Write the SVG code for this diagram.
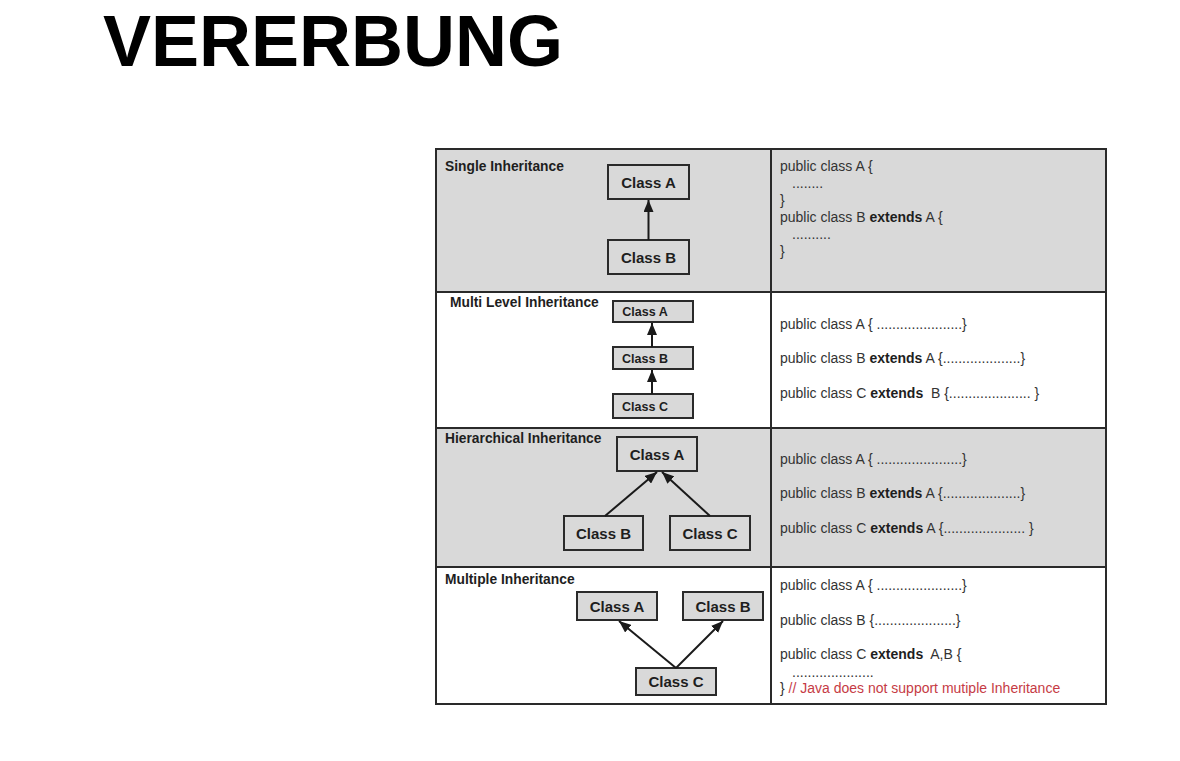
<svg xmlns="http://www.w3.org/2000/svg" width="1180" height="761" viewBox="0 0 1180 761">
  <style>
    .title { font-family: "Liberation Sans", Arial, sans-serif; font-weight: bold; font-size: 72px; fill: #000; }
    .label { font-family: "Liberation Sans", Arial, sans-serif; font-weight: bold; font-size: 13.8px; fill: #1e1e1e; }
    .box { fill: #d9d9d9; stroke: #2a2a2a; stroke-width: 2; }
    .cls { font-family: "Liberation Sans", Arial, sans-serif; font-weight: bold; font-size: 15px; fill: #1e1e1e; text-anchor: middle; }
    .cls-sm { font-family: "Liberation Sans", Arial, sans-serif; font-weight: bold; font-size: 12.5px; fill: #1e1e1e; text-anchor: middle; }
    .code { font-family: "Liberation Sans", Arial, sans-serif; font-size: 14px; fill: #333; }
    .kw { font-weight: bold; fill: #1e1e1e; }
    .note { fill: #c63b45; }
    .grid { fill: none; stroke: #2a2a2a; stroke-width: 2; }
    .edge { stroke: #1a1a1a; stroke-width: 2; fill: none; marker-end: url(#head); }
  </style>
  <defs>
    <marker id="head" markerUnits="userSpaceOnUse" markerWidth="12" markerHeight="10" refX="12" refY="5" orient="auto">
      <path d="M0,0 L12,5 L0,10 z" fill="#1a1a1a"/>
    </marker>
  </defs>

  <rect width="1180" height="761" fill="#fff"/>

  <text class="title" x="103" y="66">VERERBUNG</text>

  <!-- table rows: grey / white bands -->
  <rect x="436" y="149" width="670" height="143" fill="#d9d9d9"/>
  <rect x="436" y="292" width="670" height="136" fill="#fff"/>
  <rect x="436" y="428" width="670" height="139" fill="#d9d9d9"/>
  <rect x="436" y="567" width="670" height="137" fill="#fff"/>

  <!-- table grid -->
  <g class="grid">
    <rect x="436" y="149" width="670" height="555"/>
    <line x1="771" y1="149" x2="771" y2="704"/>
    <line x1="436" y1="292" x2="1106" y2="292"/>
    <line x1="436" y1="428" x2="1106" y2="428"/>
    <line x1="436" y1="567" x2="1106" y2="567"/>
  </g>

  <!-- section labels -->
  <text class="label" x="445" y="171">Single Inheritance</text>
  <text class="label" x="450" y="307">Multi Level Inheritance</text>
  <text class="label" x="445" y="443">Hierarchical Inheritance</text>
  <text class="label" x="445" y="584">Multiple Inheritance</text>

  <!-- Single inheritance -->
  <g id="single-a"><rect class="box" x="608" y="165" width="81" height="34"/><text class="cls" x="648.5" y="187.5">Class A</text></g>
  <g id="single-b"><rect class="box" x="608" y="240" width="81" height="34"/><text class="cls" x="648.5" y="262.5">Class B</text></g>

  <!-- Multi level inheritance -->
  <g id="multi-a"><rect class="box" x="613" y="301" width="80" height="21"/><text class="cls-sm" x="645" y="316">Class A</text></g>
  <g id="multi-b"><rect class="box" x="613" y="347" width="80" height="22"/><text class="cls-sm" x="645" y="362.5">Class B</text></g>
  <g id="multi-c"><rect class="box" x="613" y="394" width="80" height="24"/><text class="cls-sm" x="645" y="410.5">Class C</text></g>

  <!-- Hierarchical inheritance -->
  <g id="hier-a"><rect class="box" x="617" y="437" width="80" height="34"/><text class="cls" x="657" y="459.5">Class A</text></g>
  <g id="hier-b"><rect class="box" x="564" y="516" width="79" height="34"/><text class="cls" x="603.5" y="538.5">Class B</text></g>
  <g id="hier-c"><rect class="box" x="670" y="516" width="80" height="34"/><text class="cls" x="710" y="538.5">Class C</text></g>

  <!-- Multiple inheritance -->
  <g id="mult-a"><rect class="box" x="577" y="592" width="80" height="28"/><text class="cls" x="617" y="611.5">Class A</text></g>
  <g id="mult-b"><rect class="box" x="683" y="592" width="80" height="28"/><text class="cls" x="723" y="611.5">Class B</text></g>
  <g id="mult-c"><rect class="box" x="636" y="668" width="80" height="27"/><text class="cls" x="676" y="687">Class C</text></g>

  <!-- connectors -->
  <g id="connectors">
    <line class="edge" x1="648.5" y1="240" x2="648.5" y2="200"/>
    <line class="edge" x1="652" y1="347" x2="652" y2="323"/>
    <line class="edge" x1="652" y1="394" x2="652" y2="370"/>
    <line class="edge" x1="605" y1="516" x2="657" y2="472"/>
    <line class="edge" x1="710" y1="516" x2="662" y2="472"/>
    <line class="edge" x1="676" y1="668" x2="619" y2="621"/>
    <line class="edge" x1="676" y1="668" x2="723" y2="621"/>
  </g>

  <!-- code: single -->
  <g class="code">
    <text x="780" y="171">public class A {</text>
    <text x="792" y="188">........</text>
    <text x="780" y="205">}</text>
    <text x="780" y="222">public class B <tspan class="kw">extends</tspan> A {</text>
    <text x="792" y="239">..........</text>
    <text x="780" y="256">}</text>
  </g>

  <!-- code: multi level -->
  <g class="code">
    <text x="780" y="329">public class A { ......................}</text>
    <text x="780" y="363">public class B <tspan class="kw">extends</tspan> A {....................}</text>
    <text x="780" y="398">public class C <tspan class="kw">extends</tspan>&#160; B {..................... }</text>
  </g>

  <!-- code: hierarchical -->
  <g class="code">
    <text x="780" y="464">public class A { ......................}</text>
    <text x="780" y="498">public class B <tspan class="kw">extends</tspan> A {....................}</text>
    <text x="780" y="533">public class C <tspan class="kw">extends</tspan> A {..................... }</text>
  </g>

  <!-- code: multiple -->
  <g class="code">
    <text x="780" y="590">public class A { ......................}</text>
    <text x="780" y="625">public class B {.....................}</text>
    <text x="780" y="659">public class C <tspan class="kw">extends</tspan>&#160; A,B {</text>
    <text x="792" y="677">.....................</text>
    <text x="780" y="693">} <tspan class="note">// Java does not support mutiple Inheritance</tspan></text>
  </g>
</svg>
